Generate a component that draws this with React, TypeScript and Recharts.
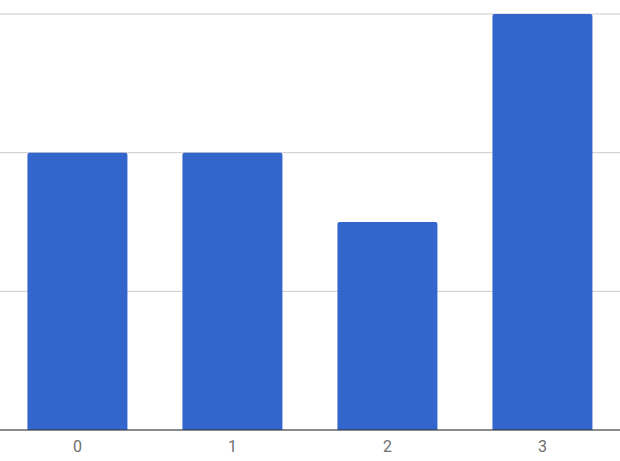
import { BarChart, Bar, XAxis, YAxis, CartesianGrid } from "recharts";

const categories = ["0", "1", "2", "3"];
const values = [4, 4, 3, 6];
const yTicks = [0, 2, 4, 6];

const data = categories.map((name, i) => ({ name, value: values[i] }));

export default function App() {
  return (
    <div style={{ position: "absolute", left: 0, top: 0 }}>
      <BarChart
        width={620}
        height={461}
        data={data}
        margin={{ top: 14, right: 0, bottom: 0, left: 0 }}
        barCategoryGap="17.7%"
      >
        <CartesianGrid vertical={false} stroke="#cccccc" />
        <YAxis hide domain={[0, 6]} ticks={yTicks} />
        <XAxis
          dataKey="name"
          height={31}
          tickLine={false}
          axisLine={{ stroke: "#333333" }}
          tick={{ fill: "#6f6f6f", fontSize: 16, fontFamily: "Roboto" }}
          tickMargin={5}
        />
        <Bar dataKey="value" fill="#3366cc" radius={[2, 2, 0, 0]} isAnimationActive={false} />
      </BarChart>
    </div>
  );
}
